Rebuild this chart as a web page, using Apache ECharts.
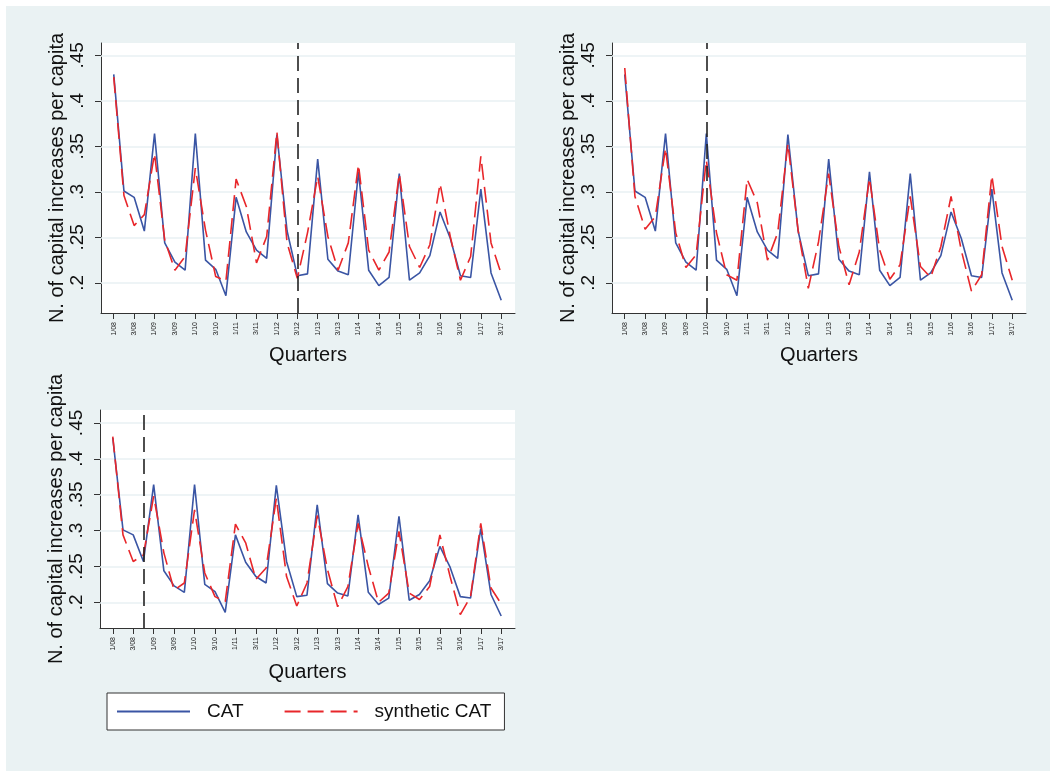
<!DOCTYPE html>
<html>
<head>
<meta charset="utf-8">
<script src="https://cdn.jsdelivr.net/npm/echarts@6/dist/echarts.min.js"></script>
<style>
html,body{margin:0;padding:0;background:#fff;}
#chart{width:1050px;height:771px;}
</style>
</head>
<body>
<div id="chart"></div>
<script>
// ---- data ----
var tickLabels = ['1/08','3/08','1/09','3/09','1/10','3/10','1/11','3/11','1/12','3/12',
                  '1/13','3/13','1/14','3/14','1/15','3/15','1/16','3/16','1/17','3/17'];
var yTicks = [0.2, 0.25, 0.3, 0.35, 0.4, 0.45];
var cat = [0.429,0.301,0.294,0.257,0.364,0.244,0.223,0.214,0.364,0.225,
           0.215,0.186,0.294,0.256,0.236,0.227,0.363,0.257,0.208,0.210,
           0.336,0.226,0.213,0.209,0.322,0.214,0.197,0.206,0.320,0.203,
           0.211,0.230,0.278,0.249,0.208,0.206,0.303,0.211,0.181];
var synth1 = [0.426,0.296,0.263,0.275,0.342,0.247,0.214,0.229,0.326,0.258,
              0.207,0.202,0.314,0.284,0.222,0.251,0.366,0.244,0.205,0.255,
              0.317,0.251,0.214,0.244,0.330,0.236,0.214,0.234,0.320,0.240,
              0.217,0.242,0.309,0.251,0.203,0.229,0.339,0.244,0.210];
var synth2 = [0.436,0.295,0.259,0.273,0.348,0.255,0.217,0.231,0.335,0.255,
              0.209,0.203,0.314,0.288,0.225,0.255,0.353,0.258,0.194,0.245,
              0.320,0.240,0.198,0.234,0.315,0.236,0.204,0.220,0.295,0.218,
              0.206,0.240,0.295,0.236,0.191,0.209,0.318,0.240,0.203];
var synth3 = [0.431,0.294,0.257,0.266,0.348,0.269,0.217,0.227,0.329,0.241,
              0.208,0.201,0.309,0.283,0.232,0.248,0.345,0.236,0.195,0.227,
              0.321,0.246,0.194,0.222,0.310,0.250,0.200,0.213,0.299,0.213,
              0.204,0.222,0.294,0.236,0.183,0.208,0.310,0.220,0.198];
var treatIndex = [18, 8, 3];
var synths = [synth1, synth2, synth3];

// ---- build ----
var BLUE = '#3a55a4', RED = '#e8262a', AX = '#333';
var tickIdx = tickLabels.map(function(_, k){ return 2*k; });

var grids = [
  {left:101, top:43, width:414, height:270},
  {left:612, top:43, width:414, height:270},
  {left:100, top:410, width:415, height:218}
];
var yRanges = [[0.167,0.4635],[0.167,0.4635],[0.1643,0.468]];

function pairs(arr){ return arr.map(function(v,i){ return [i,v]; }); }

var xAxes = [], yAxes = [], series = [];
grids.forEach(function(g, k){
  g.show = true; g.backgroundColor = '#fff'; g.borderWidth = 0;
  xAxes.push({
    type:'value', gridIndex:k, min:-1.25, max:39.35,
    name:'Quarters', nameLocation:'middle', nameGap: k===2 ? 34 : 32,
    nameTextStyle:{fontSize:20, color:'#111', fontFamily:'Liberation Sans, Arial'},
    axisLine:{show:true, onZero:false, lineStyle:{color:AX, width:1}},
    axisTick:{show:true, length:6, customValues:tickIdx, lineStyle:{color:AX}},
    axisLabel:{rotate:90, fontSize:7, color:'#222', margin:9, customValues:tickIdx,
      fontFamily:'Liberation Sans, Arial',
      formatter:function(v){ return tickLabels[Math.round(v/2)] || ''; }},
    splitLine:{show:false}
  });
  yAxes.push({
    type:'value', gridIndex:k, min:yRanges[k][0], max:yRanges[k][1],
    name:'N. of capital increases per capita', nameLocation:'middle', nameRotate:90, nameGap:34,
    nameTextStyle:{fontSize:20, color:'#111', fontFamily:'Liberation Sans, Arial'},
    axisLine:{show:true, onZero:false, lineStyle:{color:AX, width:1}},
    axisTick:{show:true, length:6, customValues:yTicks, lineStyle:{color:AX}},
    axisLabel:{rotate:90, fontSize:19, color:'#111', margin:14, customValues:yTicks,
      fontFamily:'Liberation Sans, Arial',
      formatter:function(v){ return String(+v.toFixed(2)).replace(/^0/,''); }},
    splitLine:{show:false}
  });
  series.push({
    name:'CAT', type:'line', xAxisIndex:k, yAxisIndex:k, data:pairs(cat),
    symbol:'none', lineStyle:{color:BLUE, width:1.6}, itemStyle:{color:BLUE}, z:3,
    markLine:{silent:true, symbol:'none', label:{show:false},
      lineStyle:{color:'#e9f1f3', width:1.6, type:'solid'},
      data: yTicks.map(function(t){ return {yAxis:t}; }), z:1}
  });
  series.push({
    name:'synthetic CAT', type:'line', xAxisIndex:k, yAxisIndex:k, data:pairs(synths[k]),
    symbol:'none', lineStyle:{color:RED, width:1.6, type:[16,7]}, itemStyle:{color:RED}, z:4,
    markLine:{silent:true, symbol:'none', label:{show:false},
      lineStyle:{color:'#222', width:1.6, type:[15,7]},
      data:[{xAxis:treatIndex[k]}]}
  });
});

var chart = echarts.init(document.getElementById('chart'), null, {renderer:'canvas'});
chart.setOption({
  animation:false,
  backgroundColor:'#fff',
  graphic:[{type:'rect', left:6, top:6, shape:{width:1044, height:765}, style:{fill:'#eaf2f3'}, z:-10, silent:true}],
  grid:grids, xAxis:xAxes, yAxis:yAxes, series:series,
  legend:{
    data:['CAT','synthetic CAT'], left:107, top:693,
    backgroundColor:'#fff', borderColor:'#333', borderWidth:1,
    padding:[9,13,9,9], itemWidth:73, itemHeight:14, itemGap:40,
    itemStyle:{opacity:0},
    textStyle:{fontSize:19, color:'#111', fontFamily:'Liberation Sans, Arial', padding:[0,0,0,12]}
  }
});
</script>
</body>
</html>
